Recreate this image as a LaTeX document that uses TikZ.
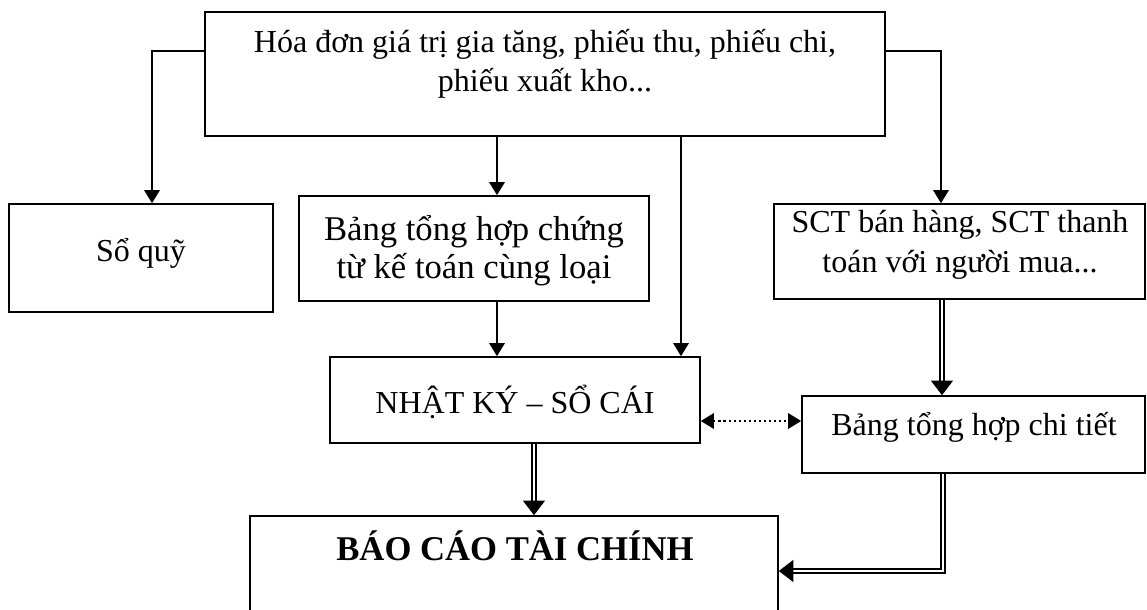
\documentclass[tikz,border=0pt]{standalone}
\usepackage{fontspec}
\setmainfont{Liberation Serif}
\usetikzlibrary{arrows.meta}
\begin{document}
\begin{tikzpicture}[x=0.75pt,y=-0.75pt,
  box/.style={draw, line width=1.2pt, inner sep=0pt},
  txt/.style={font=\fontsize{24}{29.5}\selectfont, align=center, inner sep=0pt},
  conn/.style={line width=1.6pt, -{Triangle[length=9.8pt,width=11.5pt]}},
  dots/.style={line width=1.6pt, dash pattern=on 1.6pt off 2.2pt,
    {Triangle[length=9.8pt,width=11.5pt]}-{Triangle[length=9.8pt,width=11.5pt]}},
  dbl/.style={double, double distance=2pt, line width=1.4pt, -{Triangle[length=11pt,width=16.5pt]}}]
\useasboundingbox (0,0) rectangle (1147,610);
% boxes
\node[box, minimum width=680*0.75pt, minimum height=124*0.75pt] (src) at (545,74) {};
\node[txt, anchor=base] (srct) at (545,92) {Hóa đơn giá trị gia tăng, phiếu thu, phiếu chi,\\ phiếu xuất kho...};
\node[box, minimum width=264*0.75pt, minimum height=108*0.75pt] (sq) at (141,258) {};
\node[txt, anchor=base] (sqt) at (141,261) {Sổ quỹ};
\node[box, minimum width=350*0.75pt, minimum height=105*0.75pt] (bth) at (474,248.5) {};
\node[txt, anchor=base, font=\fontsize{26}{28.5}\selectfont] (btht) at (474,278) {Bảng tổng hợp chứng\\ từ kế toán cùng loại};
\node[box, minimum width=371*0.75pt, minimum height=95*0.75pt] (sct) at (959.5,251.5) {};
\node[txt, anchor=base] (sctt) at (960,272) {SCT bán hàng, SCT thanh\\ toán với người mua...};
\node[box, minimum width=370*0.75pt, minimum height=86*0.75pt] (nk) at (515,400) {};
\node[txt, anchor=base] (nkt) at (515,413) {NHẬT KÝ – SỔ CÁI};
\node[box, minimum width=343*0.75pt, minimum height=77*0.75pt] (ct) at (973.5,434.5) {};
\node[txt, anchor=base] (ctt) at (974,435) {Bảng tổng hợp chi tiết};
\node[box, minimum width=528*0.75pt, minimum height=124*0.75pt] (bc) at (514,578) {};
\node[txt, anchor=base, font=\fontsize{26}{31}\selectfont\bfseries] (bct) at (515,560) {BÁO CÁO TÀI CHÍNH};
% helper coordinates
\coordinate (l1) at (152,51);
\coordinate (r1) at (941,51);
\coordinate (m1) at (497,0);
\coordinate (m2) at (681,0);
\coordinate (m3) at (534,0);
\coordinate (m4) at (942,0);
\coordinate (m5) at (943,571);
\coordinate (d1) at (0,421);
% connectors
\draw[conn] (src.west |- l1) -| (sq.north -| l1);
\draw[conn] (src.east |- r1) -| (sct.north -| r1);
\draw[conn] (src.south -| m1) -- (bth.north -| m1);
\draw[conn] (bth.south -| m1) -- (nk.north -| m1);
\draw[conn] (src.south -| m2) -- (nk.north -| m2);
\draw[dots] (nk.east |- d1) -- (ct.west |- d1);
\draw[dbl] (nk.south -| m3) -- (bc.north -| m3);
\draw[dbl] (sct.south -| m4) -- (ct.north -| m4);
\draw[dbl] (ct.south -| m5) |- (bc.east |- m5);
\end{tikzpicture}
\end{document}
